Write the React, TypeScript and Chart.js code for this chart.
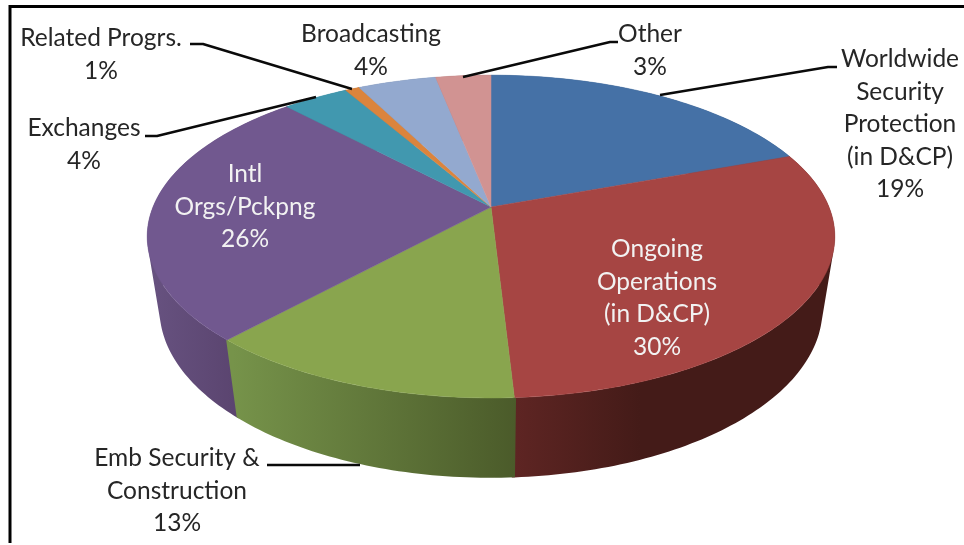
import React, { useEffect, useRef } from "react";
import { Chart, registerables } from "chart.js";

Chart.register(...registerables);

// ---- data ----
const categories = [
  "Worldwide Security Protection (in D&CP)",
  "Ongoing Operations (in D&CP)",
  "Emb Security & Construction",
  "Intl Orgs/Pckpng",
  "Exchanges",
  "Related Progrs.",
  "Broadcasting",
  "Other",
];
const shares = [19.4, 29.7, 12.7, 26.2, 3.7, 0.8, 4.4, 3.1];

// ---- text layout ----
const labelLines = [
  ["Worldwide", "Security", "Protection", "(in D&CP)"],
  ["Ongoing", "Operations", "(in D&CP)"],
  ["Emb Security &", "Construction"],
  ["Intl", "Orgs/Pckpng"],
  ["Exchanges"],
  ["Related Progrs."],
  ["Broadcasting"],
  ["Other"],
];
const labelCentreX = [900, 657, 177, 245, 84, 101, 371, 650];
const labelFirstY = [59, 249, 458, 174, 128, 38, 34, 34];
const labelColours = ["#262626", "#f2f2f2", "#262626", "#f2f2f2", "#262626", "#262626", "#262626", "#262626"];
const LINE_STEP = 32.6;
const FONT = "24.5px Lato, 'Open Sans', sans-serif";

// ---- styling ----
const topColours = ["#4571a6", "#a64543", "#89a54e", "#71588f", "#4198af", "#db843d", "#93a9cf", "#d19392"];
const sideFrom = ["#35587f", "#5e2523", "#76934a", "#675280", "#2f6f80", "#a06029", "#6b7c98", "#99696a"];
const sideTo = ["#2a4766", "#441b18", "#4b5b2a", "#5b4570", "#2f6f80", "#a06029", "#6b7c98", "#99696a"];
const sideRangeX = [
  [491, 835],
  [515, 640],
  [233, 515],
  [150, 233],
  [300, 350],
  [340, 360],
  [350, 440],
  [430, 491],
];
const leaders = [
  [[660, 95], [828, 67], [837, 67]],
  [[267, 465], [360, 465]],
  [[145, 136], [157, 136], [316, 97]],
  [[190, 44], [203, 44], [352, 89]],
  [[463, 77], [610, 42], [618, 42]],
];

// perspective projection of the pie's disc
const CX = 491;
const CY = 207;
const RX = 338;
const RY = 156;
const TILT = 0.183;
const BOTTOM_W = 0.036;
const BOTTOM_D = 75;
const WALL_OVERLAP = 0.004;

function project(a: number, bottom: boolean): [number, number] {
  const u = Math.cos(a);
  const v = Math.sin(a);
  const w = 1 - TILT * v + (bottom ? BOTTOM_W : 0);
  return [CX + (RX * u) / w, CY + (RY * v + (bottom ? BOTTOM_D : 0)) / w];
}

const STEP = Math.PI / 180;

function anglesBetween(a: number, b: number): number[] {
  const out: number[] = [];
  for (let t = a; t < b; t += STEP) out.push(t);
  out.push(b);
  return out;
}

const pie3d = {
  id: "pie3d",
  beforeDatasetsDraw(chart: any) {
    const ctx: CanvasRenderingContext2D = chart.ctx;
    const arcs = chart.getDatasetMeta(0).data;
    // frame of the picture
    ctx.save();
    ctx.strokeStyle = "#000";
    ctx.lineWidth = 3;
    ctx.beginPath();
    ctx.moveTo(10, 543);
    ctx.lineTo(10, 6.5);
    ctx.lineTo(964, 6.5);
    ctx.stroke();

    // outer wall, slices at the back first; every slice is one path of
    // same-orientation quads, so no seams and no holes where the wall folds
    [0, 7, 6, 5, 4, 3, 1, 2].forEach((i) => {
      const { startAngle, endAngle } = arcs[i];
      const g = ctx.createLinearGradient(sideRangeX[i][0], 0, sideRangeX[i][1], 0);
      g.addColorStop(0, sideFrom[i]);
      g.addColorStop(1, sideTo[i]);
      ctx.fillStyle = g;
      const ts = anglesBetween(startAngle - WALL_OVERLAP, endAngle + WALL_OVERLAP);
      ctx.beginPath();
      for (let k = 0; k < ts.length - 1; k++) {
        const p = [project(ts[k], false), project(ts[k + 1], false), project(ts[k + 1], true), project(ts[k], true)];
        let area = 0;
        for (let n = 0; n < 4; n++) {
          const q = p[(n + 1) % 4];
          area += p[n][0] * q[1] - q[0] * p[n][1];
        }
        if (area < 0) p.reverse();
        ctx.moveTo(p[0][0], p[0][1]);
        for (let n = 1; n < 4; n++) ctx.lineTo(p[n][0], p[n][1]);
        ctx.closePath();
      }
      ctx.fill("nonzero");
    });

    // top face
    arcs.forEach((arc: any, i: number) => {
      ctx.fillStyle = topColours[i];
      ctx.strokeStyle = topColours[i];
      ctx.lineWidth = 0.5;
      ctx.beginPath();
      ctx.moveTo(CX, CY);
      anglesBetween(arc.startAngle, arc.endAngle).forEach((t) => {
        const [x, y] = project(t, false);
        ctx.lineTo(x, y);
      });
      ctx.closePath();
      ctx.fill();
      ctx.stroke();
    });

    // leader lines
    ctx.strokeStyle = "#0a0a0a";
    ctx.lineWidth = 2.4;
    ctx.lineJoin = "round";
    leaders.forEach((pts) => {
      ctx.beginPath();
      pts.forEach(([x, y], n) => (n ? ctx.lineTo(x, y) : ctx.moveTo(x, y)));
      ctx.stroke();
    });

    // labels
    ctx.font = FONT;
    ctx.textAlign = "center";
    ctx.textBaseline = "middle";
    categories.forEach((_, i) => {
      const lines = [...labelLines[i], `${Math.round(shares[i])}%`];
      ctx.fillStyle = labelColours[i];
      lines.forEach((line, n) => ctx.fillText(line, labelCentreX[i], labelFirstY[i] + n * LINE_STEP));
    });
    ctx.restore();
    return false;
  },
};

export default function App() {
  const ref = useRef<HTMLCanvasElement>(null);
  useEffect(() => {
    const chart = new Chart(ref.current as HTMLCanvasElement, {
      type: "pie",
      data: { labels: categories, datasets: [{ data: shares, backgroundColor: topColours }] },
      options: {
        animation: false,
        responsive: false,
        plugins: { legend: { display: false }, tooltip: { enabled: false } },
      },
      plugins: [pie3d as any],
    });
    return () => chart.destroy();
  }, []);
  return (
    <div style={{ position: "fixed", left: 0, top: 0, width: 964, height: 545, background: "#fff" }}>
      <canvas ref={ref} width={964} height={545} style={{ display: "block", filter: "blur(0.4px)" }} />
    </div>
  );
}
